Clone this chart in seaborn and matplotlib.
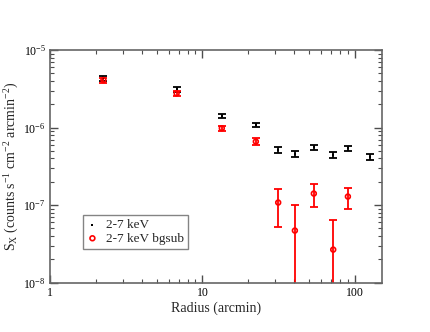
import numpy as np
import pandas as pd
import matplotlib
matplotlib.use("Agg")
import matplotlib.pyplot as plt
import matplotlib.ticker as mticker
import seaborn as sns

# radius bins (arcmin)
radius = [2.24, 6.77, 13.4, 22.4, 31.4, 40.4, 53.8, 72.1, 90.0, 125.0]

# 2-7 keV surface brightness
sx_total = [4.3e-6, 3.1e-6, 1.40e-6, 1.08e-6, 5.2e-7, 4.6e-7, 5.6e-7, 4.43e-7, 5.45e-7, 4.2e-7]
sx_total_err = [0.3e-6, 0.22e-6, 0.09e-6, 0.07e-6, 0.45e-7, 0.45e-7, 0.4e-7, 0.35e-7, 0.4e-7, 0.35e-7]

# 2-7 keV background subtracted
radius_sub = radius[:9]
sx_sub = [4.1e-6, 2.76e-6, 9.8e-7, 6.6e-7, 1.08e-7, 4.7e-8, 1.41e-7, 2.67e-8, 1.29e-7]
sx_sub_err = [0.3e-6, 0.22e-6, 0.8e-7, 0.65e-7, 5.5e-8, 5.3e-8, 4.5e-8, 3.7e-8, 3.9e-8]

sns.set_style("ticks")
plt.rcParams["font.family"] = ["Liberation Serif", "DejaVu Serif"]
plt.rcParams["mathtext.fontset"] = "custom"
plt.rcParams["mathtext.rm"] = "Liberation Serif"
plt.rcParams["mathtext.it"] = "Liberation Serif:italic"

df_tot = pd.DataFrame({"r": radius, "sx": sx_total})
df_sub = pd.DataFrame({"r": radius_sub, "sx": sx_sub})

fig = plt.figure(figsize=(4.3, 3.32), dpi=100)
ax = fig.add_axes([0.1163, 0.1485, 0.7714, 0.7009])

ax.errorbar(radius, sx_total, yerr=sx_total_err, fmt="none", ecolor="black",
            elinewidth=1.3, capsize=3, capthick=1.3, zorder=2)
ax.errorbar(radius_sub, sx_sub, yerr=sx_sub_err, fmt="none", ecolor="#ff0000",
            elinewidth=1.3, capsize=3, capthick=1.3, zorder=2)

sns.scatterplot(data=df_tot, x="r", y="sx", ax=ax, marker="s", s=4,
                color="black", edgecolor="black", linewidth=0, label="2-7 keV", zorder=3)
sns.scatterplot(data=df_sub, x="r", y="sx", ax=ax, marker="o", s=12,
                facecolor="none", edgecolor="#ff0000", linewidth=1.2,
                label="2-7 keV bgsub", zorder=3)

ax.set_xscale("log")
ax.set_yscale("log")
ax.set_xlim(1, 150)
ax.set_ylim(1e-8, 1e-5)
ax.xaxis.set_major_formatter(mticker.FuncFormatter(lambda v, p: f"{v:g}"))

ax.set_xlabel("Radius (arcmin)", fontsize=10, labelpad=2)
ax.set_ylabel(r"S$_\mathrm{X}$ (counts s$^{-1}$ cm$^{-2}$ arcmin$^{-2}$)", fontsize=10, labelpad=2)

ax.tick_params(which="both", direction="in", top=True, right=True, colors="0.3",
               labelcolor="black", labelsize=8.5, pad=3)
ax.tick_params(which="major", length=6, width=1)
ax.tick_params(which="minor", length=3, width=0.8)
for sp in ax.spines.values():
    sp.set_color("0.4")
    sp.set_linewidth(1.2)

leg = ax.legend(loc="upper left", bbox_to_anchor=(0.1, 0.291), fontsize=9.5,
                frameon=True, fancybox=False, borderpad=0.3, handlelength=0.8,
                handletextpad=0.6, labelspacing=0.1, borderaxespad=0)
leg.get_frame().set_edgecolor("0.4")
leg.get_frame().set_linewidth(1.0)

fig.savefig("out.png", dpi=100)
